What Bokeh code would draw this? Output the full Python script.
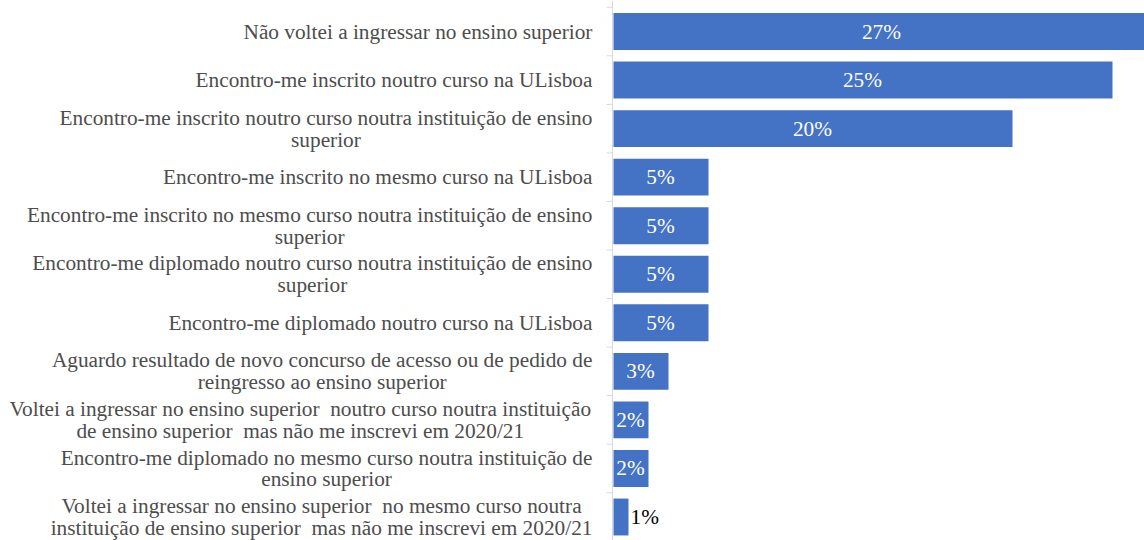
from bokeh.plotting import figure
from bokeh.models import ColumnDataSource, LabelSet, Range1d, Span
from bokeh.core.properties import value, field
from bokeh.embed import file_html
from bokeh.resources import INLINE

NBSP = "\u00a0"
categories = [
    "Não voltei a ingressar no ensino superior",
    "Encontro-me inscrito noutro curso na ULisboa",
    "Encontro-me inscrito noutro curso noutra instituição de ensino\nsuperior",
    "Encontro-me inscrito no mesmo curso na ULisboa",
    "Encontro-me inscrito no mesmo curso noutra instituição de ensino\nsuperior",
    "Encontro-me diplomado noutro curso noutra instituição de ensino\nsuperior",
    "Encontro-me diplomado noutro curso na ULisboa",
    "Aguardo resultado de novo concurso de acesso ou de pedido de\nreingresso ao ensino superior",
    "Voltei a ingressar no ensino superior  noutro curso noutra instituição\nde ensino superior  mas não me inscrevi em 2020/21",
    "Encontro-me diplomado no mesmo curso noutra instituição de\nensino superior",
    "Voltei a ingressar no ensino superior  no mesmo curso noutra\ninstituição de ensino superior  mas não me inscrevi em 2020/21",
]
values = [26.9, 25.0, 20.0, 4.8, 4.8, 4.8, 4.8, 2.8, 1.8, 1.8, 0.8]
value_labels = ["27%", "25%", "20%", "5%", "5%", "5%", "5%", "3%", "2%", "2%", "1%"]

FONT = "Liberation Serif"
FS = 21.3        # px
LINE_H = 0.45    # data units between label lines
GAP = 20         # px between label block and axis
PX_PER_UNIT = 20 # horizontal scale (px per percentage point)
BAR_COLOR = "#4472C4"
TEXT_COLOR = "#4D4D4D"
AXIS_COLOR = "#D9D9D9"

# Times / Liberation Serif advance widths (per 1000 em)
W = {" ": 250, NBSP: 250, "-": 333, "/": 278, "%": 833, "A": 722, "E": 611, "L": 611,
     "N": 722, "U": 722, "V": 722, "a": 444, "b": 500, "c": 444, "d": 500, "e": 444,
     "f": 333, "g": 500, "h": 500, "i": 278, "j": 278, "k": 500, "l": 278, "m": 778,
     "n": 500, "o": 500, "p": 500, "q": 500, "r": 333, "s": 389, "t": 278, "u": 500,
     "v": 500, "w": 722, "x": 500, "y": 500, "z": 444, "ã": 444, "ç": 444}


def text_width(s):
    return sum(W.get(ch, 500) for ch in s) * FS / 1000.0


idx = list(range(len(categories)))

p = figure(width=1144, height=540,
           x_range=Range1d(-612 / PX_PER_UNIT, 532 / PX_PER_UNIT),
           y_range=Range1d(10.484, -0.639),
           output_backend="svg", toolbar_location=None,
           x_axis_location=None, y_axis_location=None,
           min_border_left=0, min_border_right=0,
           min_border_top=0, min_border_bottom=0)
p.outline_line_color = None
p.grid.visible = False
p.background_fill_color = "white"
p.border_fill_color = "white"

# vertical axis line at 0 with outward ticks at category boundaries
p.add_layout(Span(location=0, dimension="height", line_color=AXIS_COLOR, line_width=1))
bounds = [i - 0.5 for i in range(len(categories) + 1)]
p.segment(x0=[-6 / PX_PER_UNIT] * len(bounds), x1=[0] * len(bounds), y0=bounds, y1=bounds,
          line_color=AXIS_COLOR, line_width=1)

bars = ColumnDataSource(dict(y=idx, right=values))
p.hbar(y="y", left=0.05, right="right", height=0.76, source=bars,
       fill_color=BAR_COLOR, line_color=None)

# category labels (each line centred within its block, block right-aligned to axis)
lx, ly, lt, lo = [], [], [], []
for i, cat in enumerate(categories):
    lines = [l.replace("  ", " " + NBSP) for l in cat.split("\n")]
    maxw = max(text_width(l) for l in lines)
    n = len(lines)
    for k, line in enumerate(lines):
        lx.append(0)
        ly.append(i + (k - (n - 1) / 2) * LINE_H)
        lt.append(line)
        lo.append(-(GAP + maxw / 2))
cat_src = ColumnDataSource(dict(x=lx, y=ly, text=lt, xo=lo))
p.add_layout(LabelSet(x="x", y="y", text="text", x_offset="xo", source=cat_src,
                      text_align="center", text_baseline="middle",
                      text_font=value(FONT), text_font_size=f"{FS}px",
                      text_color=TEXT_COLOR))

# value labels
vx, vy, va, vc, vo = [], [], [], [], []
for i, v in enumerate(values):
    if v >= 1.5:
        vx.append(v / 2); va.append("center"); vc.append("white"); vo.append(0)
    else:
        vx.append(v); va.append("left"); vc.append("#000000"); vo.append(2)
    vy.append(i)
val_src = ColumnDataSource(dict(x=vx, y=vy, text=value_labels, align=va, color=vc, xo=vo))
p.add_layout(LabelSet(x="x", y="y", text="text", x_offset="xo", source=val_src,
                      text_align=field("align"), text_baseline="middle",
                      text_font=value(FONT), text_font_size=f"{FS}px",
                      text_color=field("color")))

open("out.html", "w").write(file_html(p, INLINE))
